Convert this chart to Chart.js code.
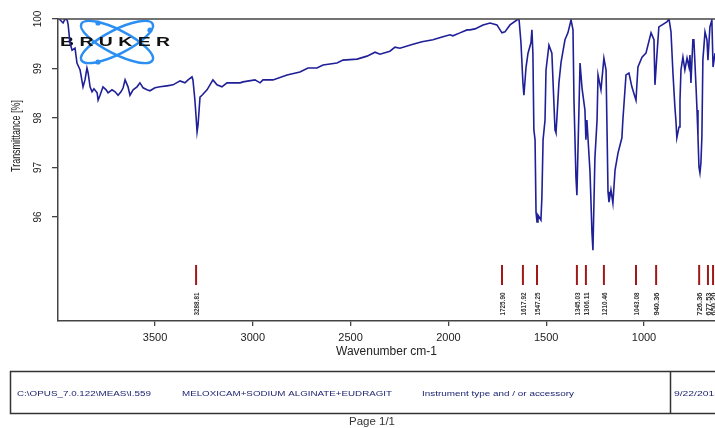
<!DOCTYPE html>
<html>
<head>
<meta charset="utf-8">
<script src="https://cdn.jsdelivr.net/npm/chart.js@4.4.0/dist/chart.umd.min.js"></script>
<style>
html, body { margin: 0; padding: 0; background: #fff; overflow: hidden; }
</style>
</head>
<body>
<canvas id="spectrum" width="715" height="428"></canvas>
<script>
// wavenumber (cm-1) and transmittance (%)
const spectrumWn = [
    3990, 3986, 3970, 3960, 3949, 3944, 3935, 3924, 3909, 3899, 3883, 3868, 3858, 3848, 3842, 3832,
    3822, 3812, 3796, 3791, 3781, 3766, 3750, 3740, 3720, 3704, 3689, 3674, 3663, 3653, 3638, 3628,
    3612, 3592, 3577, 3561, 3541, 3526, 3500, 3474, 3439, 3408, 3372, 3347, 3331, 3311, 3306, 3296,
    3290, 3285, 3280, 3270, 3260, 3234, 3204, 3183, 3158, 3132, 3101, 3065,
    3050, 2989, 2963, 2948, 2897, 2825, 2759, 2718, 2672, 2641, 2570, 2539, 2467, 2416, 2375, 2350,
    2299, 2273, 2248, 2181, 2135, 2079, 2028, 1992, 1977, 1941, 1905,
    1890, 1864, 1823, 1787, 1752, 1726, 1711, 1685, 1650, 1639, 1629, 1619, 1614, 1603, 1593, 1578,
    1573, 1568, 1563, 1557, 1552, 1547, 1542, 1527, 1522, 1516, 1506, 1501, 1486, 1471, 1455, 1450,
    1445, 1435, 1424, 1404, 1389, 1373, 1363, 1358, 1348, 1343, 1327, 1317, 1302, 1297, 1292, 1276,
    1266, 1261, 1251, 1240, 1235, 1220, 1205, 1194, 1189, 1184, 1179, 1169, 1159, 1148, 1133, 1113,
    1108, 1092, 1077, 1062, 1041, 1031, 1010, 990, 964, 949, 944, 934, 924, 883, 872, 862,
    852, 842, 837, 832, 821, 816, 811, 801, 791, 780, 770, 765, 760, 750, 745, 734,
    729, 724, 719, 714, 709, 704, 699, 688, 678, 673, 663, 653, 647, 637
];
const spectrumT = [
    100.0, 100.0, 99.92, 100.0, 99.98, 99.88, 99.52, 99.37, 99.41, 99.11, 98.97, 98.63, 98.77, 99.01, 98.91, 98.63,
    98.53, 98.59, 98.51, 98.36, 98.46, 98.63, 98.57, 98.51, 98.57, 98.53, 98.46, 98.53, 98.61, 98.77, 98.63, 98.46,
    98.57, 98.63, 98.71, 98.61, 98.57, 98.55, 98.61, 98.63, 98.65, 98.67, 98.75, 98.71, 98.77, 98.83, 98.77, 98.36,
    98.02, 97.72, 97.86, 98.42, 98.46, 98.57, 98.77, 98.67, 98.63, 98.71, 98.71, 98.71,
    98.73, 98.77, 98.71, 98.77, 98.77, 98.87, 98.93, 99.01, 99.01, 99.07, 99.11, 99.17, 99.19, 99.25, 99.33, 99.29,
    99.35, 99.43, 99.41, 99.49, 99.54, 99.58, 99.64, 99.68, 99.66, 99.72, 99.78,
    99.78, 99.80, 99.88, 99.92, 99.88, 99.72, 99.74, 99.88, 99.98, 100.0, 99.52, 98.71, 98.46, 99.03, 99.31, 99.52,
    99.78, 99.31, 97.76, 97.56, 96.10, 95.90, 96.04, 95.94, 96.40, 97.56, 97.96, 98.97, 99.47, 99.31, 97.76, 97.70,
    98.02, 98.71, 99.13, 99.58, 99.72, 99.98, 99.78, 98.36, 96.81, 96.44, 99.11, 98.61, 98.16, 97.56, 97.96, 96.91,
    95.68, 95.33, 97.19, 97.96, 98.87, 98.57, 99.21, 98.97, 97.76, 96.51, 96.30, 96.55, 96.28, 96.95, 97.29, 97.60,
    97.96, 98.87, 98.91, 98.63, 98.36, 99.03, 99.23, 99.31, 99.72, 99.58, 98.67, 99.27, 99.84, 99.94, 100.0, 99.74,
    98.91, 98.22, 97.96, 97.60, 97.82, 98.36, 98.97, 99.23, 98.97, 99.21, 99.03, 99.27, 98.71, 99.58, 99.58, 98.63,
    98.16, 97.62, 97.01, 96.89, 97.09, 97.62, 99.17, 99.74, 99.58, 99.17, 99.84, 99.98, 99.03, 99.31
];
const xTickValues = [1000, 1500, 2000, 2500, 3000, 3500];
const yTickValues = [96, 97, 98, 99, 100];
const peakWn = [3290, 1726, 1619, 1547, 1343, 1297, 1205, 1041, 938, 718, 673, 647];
const peakLabels = ['3288.81', '1725.90', '1617.92', '1547.25', '1345.03', '1306.11', '1210.46', '1043.08', '940.36', '726.36', '677.53', '650.20'];

const fontFamily = '"Liberation Sans", Arial, Helvetica, sans-serif';

const points = [];
for (let i = 0; i < spectrumWn.length; i++) {
    points.push({ x: spectrumWn[i], y: spectrumT[i] });
}

// draw text centred on (x, y), squeezed or stretched to a given length
function fitText(ctx, text, x, y, width, font, color, vertical) {
    ctx.save();
    ctx.font = font;
    ctx.fillStyle = color;
    ctx.textAlign = 'center';
    ctx.textBaseline = 'middle';
    ctx.translate(x, y);
    if (vertical) ctx.rotate(-Math.PI / 2);
    const w = ctx.measureText(text).width;
    ctx.scale(width / w, 1);
    ctx.fillText(text, 0, 0);
    ctx.restore();
}

const decor = {
    id: 'decor',
    beforeDatasetsDraw(chart) {
        const ctx = chart.ctx;
        // Bruker logo
        ctx.save();
        ctx.strokeStyle = '#2b8ef2';
        ctx.lineWidth = 2.5;
        ctx.beginPath();
        ctx.ellipse(117, 42, 40, 12, 27 * Math.PI / 180, 0, Math.PI * 2);
        ctx.stroke();
        ctx.beginPath();
        ctx.ellipse(117, 42, 40, 12, -27 * Math.PI / 180, 0, Math.PI * 2);
        ctx.stroke();
        ctx.fillStyle = '#2b8ef2';
        [[98, 23], [98, 62], [150, 30]].forEach(function (p) {
            ctx.beginPath();
            ctx.arc(p[0], p[1], 2.6, 0, Math.PI * 2);
            ctx.fill();
        });
        ctx.restore();
        fitText(ctx, 'B R U K E R', 115, 42.5, 110, 'bold 13px ' + fontFamily, '#111', false);
    },
    afterDraw(chart) {
        const ctx = chart.ctx;
        const area = chart.chartArea;
        const xs = chart.scales.x;

        // top frame line
        ctx.save();
        ctx.strokeStyle = '#444';
        ctx.lineWidth = 1.5;
        ctx.beginPath();
        ctx.moveTo(area.left, area.top);
        ctx.lineTo(area.right, area.top);
        ctx.stroke();
        ctx.restore();

        // peak markers
        ctx.save();
        ctx.strokeStyle = '#a01818';
        ctx.lineWidth = 2;
        for (let i = 0; i < peakWn.length; i++) {
            const px = xs.getPixelForValue(peakWn[i]);
            ctx.beginPath();
            ctx.moveTo(px, area.bottom - 56);
            ctx.lineTo(px, area.bottom - 36);
            ctx.stroke();
        }
        ctx.restore();
        for (let i = 0; i < peakWn.length; i++) {
            const px = xs.getPixelForValue(peakWn[i]) + 1;
            fitText(ctx, peakLabels[i], px, area.bottom - 17, 23, 'bold 7px ' + fontFamily, '#333', true);
        }

        // y axis title
        fitText(ctx, 'Transmittance [%]', 17, 136, 72, '12px ' + fontFamily, '#222', true);

        // footer box
        ctx.save();
        ctx.strokeStyle = '#333';
        ctx.lineWidth = 1.5;
        ctx.strokeRect(10.5, 371.5, 720, 42);
        ctx.beginPath();
        ctx.moveTo(670.5, 371.5);
        ctx.lineTo(670.5, 413.5);
        ctx.stroke();
        ctx.restore();
        const footColor = '#1e2470';
        fitText(ctx, 'C:\\OPUS_7.0.122\\MEAS\\I.559', 17 + 67, 394, 134, '7px ' + fontFamily, footColor, false);
        fitText(ctx, 'MELOXICAM+SODIUM ALGINATE+EUDRAGIT', 182 + 105, 394, 210, '7px ' + fontFamily, footColor, false);
        fitText(ctx, 'Instrument type and / or accessory', 422 + 76, 394, 152, '7px ' + fontFamily, footColor, false);
        fitText(ctx, '9/22/2015', 674 + 23, 394, 46, '7px ' + fontFamily, footColor, false);

        fitText(ctx, 'Page 1/1', 372, 422, 46, '11px ' + fontFamily, '#333', false);
    }
};

const ctx = document.getElementById('spectrum').getContext('2d');
const spectrumChart = new Chart(ctx, {
    type: 'line',
    data: {
        datasets: [{
            data: points,
            borderColor: '#1f1f98',
            borderWidth: 1.6,
            pointRadius: 0,
            tension: 0,
            fill: false
        }]
    },
    options: {
        responsive: false,
        animation: false,
        layout: { padding: { top: 19, right: 0, bottom: 67, left: 0 } },
        plugins: {
            legend: { display: false },
            tooltip: { enabled: false }
        },
        scales: {
            x: {
                type: 'linear',
                reverse: true,
                min: 637,
                max: 3996,
                afterBuildTicks: function (scale) {
                    scale.ticks = xTickValues.map(v => ({ value: v }));
                },
                afterFit: function (scale) { scale.height = 40; },
                grid: { drawOnChartArea: false, tickLength: 5, color: '#444', lineWidth: 1.3 },
                border: { color: '#444', width: 1.5 },
                ticks: {
                    color: '#222',
                    padding: 5,
                    maxRotation: 0,
                    font: { family: fontFamily, size: 11 },
                    callback: v => String(v)
                },
                title: {
                    display: true,
                    text: 'Wavenumber cm-1',
                    color: '#222',
                    font: { family: fontFamily, size: 12 },
                    padding: { top: 0, bottom: 2 }
                }
            },
            y: {
                min: 93.9,
                max: 100,
                afterBuildTicks: function (scale) {
                    scale.ticks = yTickValues.map(v => ({ value: v }));
                },
                afterFit: function (scale) { scale.width = 58; },
                grid: { drawOnChartArea: false, tickLength: 6, color: '#444', lineWidth: 1.3 },
                border: { color: '#444', width: 1.5 },
                ticks: {
                    color: '#222',
                    padding: 5,
                    minRotation: 90,
                    maxRotation: 90,
                    crossAlign: 'center',
                    font: { family: fontFamily, size: 10 },
                    callback: v => String(v)
                }
            }
        }
    },
    plugins: [decor]
});
</script>
</body>
</html>
